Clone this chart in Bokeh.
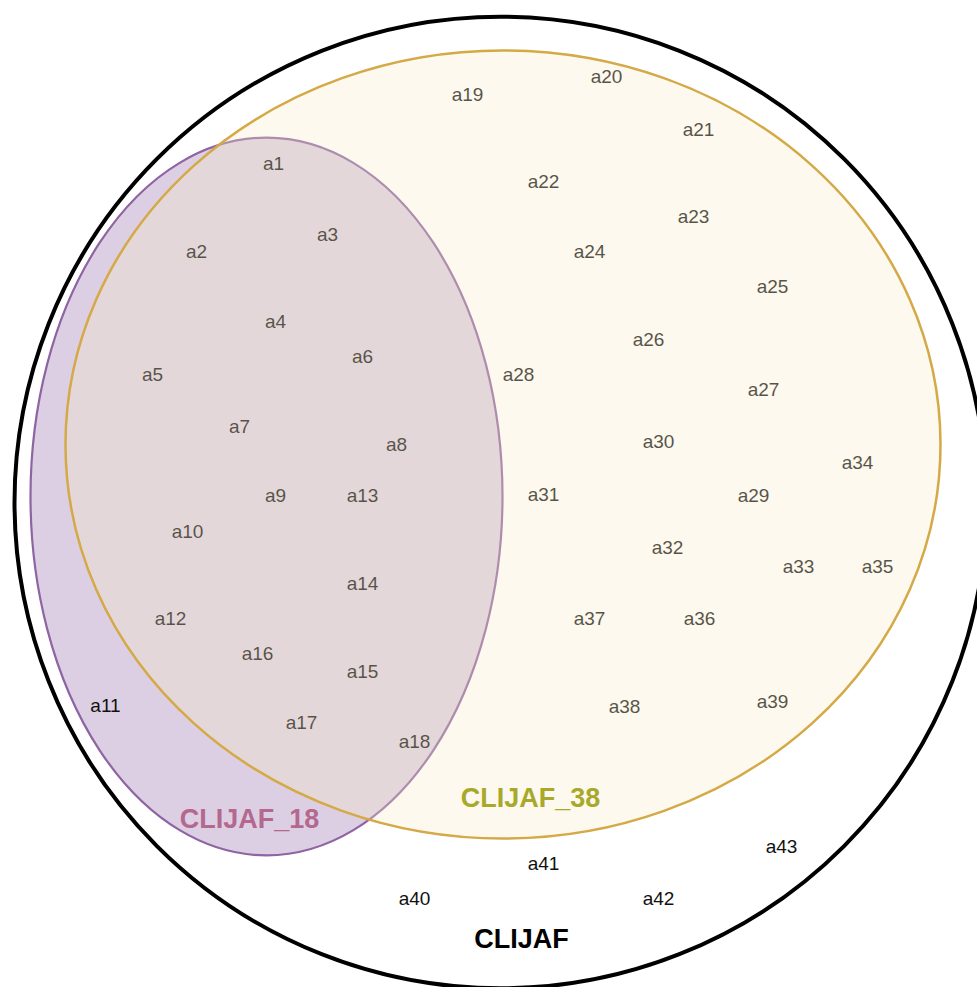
from bokeh.plotting import figure
from bokeh.models import Range1d, ColumnDataSource
from bokeh.embed import file_html
from bokeh.resources import INLINE
from bokeh.core.properties import value

# Set shapes (screen-like coordinates, y downward)
set_names = ["CLIJAF", "CLIJAF_18", "CLIJAF_38"]
set_cx = [500, 266, 502.5]
set_cy = [502, 496, 444]
set_w = [972, 472, 875]
set_h = [972, 718, 788]

set_label_x = [521, 249, 530]
set_label_y = [938, 818, 797]
set_label_colors = ["#000000", "#b5688f", "#a8a92b"]

# Members
labels = ["a%d" % i for i in range(1, 44)]
label_x = [273, 196, 327, 275, 152, 362, 239, 396, 275, 187,
           105, 170, 362, 362, 362, 257, 301, 414, 467, 606,
           698, 543, 693, 589, 772, 648, 763, 518, 753, 658,
           543, 667, 798, 857, 877, 699, 589, 624, 772, 414,
           543, 658, 781]
label_y = [163, 251, 234, 321, 374, 356, 426, 444, 495, 531,
           705, 618, 495, 583, 671, 653, 722, 741, 94, 76,
           129, 181, 216, 251, 286, 339, 389, 374, 495, 441,
           494, 547, 566, 462, 566, 618, 618, 706, 701, 898,
           863, 898, 846]

p = figure(width=977, height=987, output_backend="svg", toolbar_location=None,
           x_range=Range1d(0, 977), y_range=Range1d(987, 0),
           min_border=0)
p.xaxis.visible = False
p.yaxis.visible = False
p.grid.visible = False
p.outline_line_color = None
p.background_fill_color = "white"
p.border_fill_color = "white"

# outer circle
p.ellipse(x=[set_cx[0]], y=[set_cy[0]], width=[set_w[0]], height=[set_h[0]],
          fill_color=None, line_color="black", line_width=4)
# purple set
p.ellipse(x=[set_cx[1]], y=[set_cy[1]], width=[set_w[1]], height=[set_h[1]],
          fill_color="#8a5fa2", fill_alpha=0.3, line_color="#8e64a3", line_width=2.2)

src = ColumnDataSource(dict(x=label_x, y=label_y, t=labels))
p.text(x="x", y="y", text="t", source=src, text_align="center",
       text_baseline="middle", text_font=value("Liberation Sans"),
       text_font_size="19px", text_color="#111111")

# yellow set on top
p.ellipse(x=[set_cx[2]], y=[set_cy[2]], width=[set_w[2]], height=[set_h[2]],
          fill_color="#f9ecc8", fill_alpha=0.3, line_color="#d4a946", line_width=2.5)

ssrc = ColumnDataSource(dict(x=set_label_x, y=set_label_y, t=set_names, c=set_label_colors))
p.text(x="x", y="y", text="t", source=ssrc, text_align="center",
       text_baseline="middle", text_font=value("Liberation Sans"),
       text_font_style="bold", text_font_size="27px", text_color="c")

open("out.html", "w").write(file_html(p, INLINE))
